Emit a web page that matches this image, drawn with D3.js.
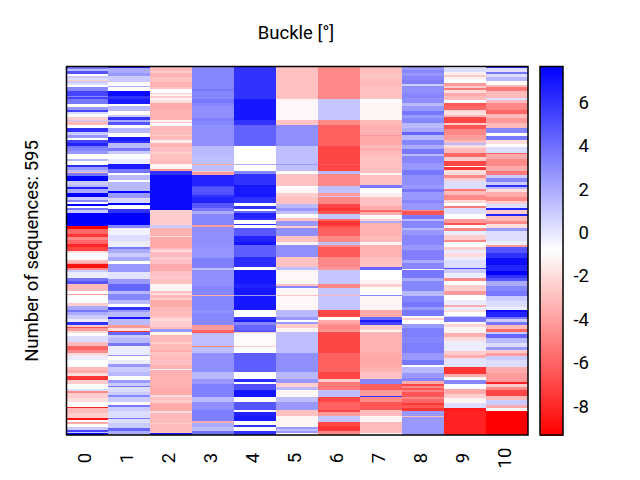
<!DOCTYPE html>
<html>
<head>
<meta charset="utf-8">
<title>Buckle</title>
<style>
    html, body { margin: 0; padding: 0; background: #fff; }
    text { font-family: Roboto, "Open Sans", sans-serif; fill: #000; }
    .frame { fill: none; stroke: #000; stroke-width: 1.5px; }
    .cell { shape-rendering: crispEdges; }
</style>
</head>
<body>
<svg width="640" height="480"></svg>
<script src="https://d3js.org/d3.v7.min.js"></script>
<script>
// each column: runs of [last sequence index of the run, buckle value]
const col0 = [[4,3.7],[8,1.5],[12,4.8],[15,-.83],[18,.9],[21,.3],[23,-2.5],[26,.9],[30,.3],[33,-.83],[40,3.2],[47,5.4],[50,3.2],[53,5.4],[60,3.7],[65,-.83],[70,2.6],[73,5.4],[76,.3],[81,-.83],[86,-2.5],[88,.9],[94,-3.1],[99,-.83],[106,6],[110,.9],[115,2.6],[118,-.83],[124,5.4],[128,6.5],[132,3.7],[137,3.2],[142,2.6],[149,-.83],[152,1.5],[159,-.83],[162,6.2],[167,2.6],[170,1.5],[172,-3.1],[176,3.7],[185,7.66],[191,.9],[194,1.5],[197,6.5],[204,2],[211,7.66],[215,.9],[219,3.2],[222,-.83],[226,7.66],[229,-.83],[231,3.7],[237,.9],[258,7.66],[263,-9.33],[271,-5.9],[275,-7.6],[280,-4.8],[287,-5.9],[291,-8.2],[298,-7],[301,-1.96],[312,-.83],[318,-3.1],[319,-4.2],[326,-8.7],[328,-4.8],[332,.9],[341,-.2],[346,3.7],[351,4.8],[362,-3.1],[367,-.83],[369,-4.2],[382,-.83],[386,-2.5],[393,2],[397,3.7],[401,2],[408,.9],[412,-.2],[417,6],[420,-2.5],[423,-6.5],[427,-4.2],[430,-1.96],[435,-.83],[445,.3],[451,-3.1],[458,-5.9],[463,-4.8],[468,-1.96],[474,-.2],[485,-.83],[490,-3.1],[495,-3.65],[499,-1.96],[506,-7.6],[512,-2.5],[520,-.83],[524,.3],[527,-4.8],[536,-2.5],[541,-1.96],[549,-.83],[551,-8.2],[560,-3.1],[568,-2.5],[571,-8.7],[574,-.83],[578,-3.65],[582,-.83],[587,.9],[590,5.4],[592,.9],[595,7.66]];
const col1 = [[3,6.5],[10,2],[16,2.6],[25,.9],[31,-.83],[33,2],[40,-.83],[48,7.3],[53,6],[60,6.8],[63,-.83],[72,1.5],[78,-.83],[81,.9],[86,6],[89,2],[95,4.8],[99,-.83],[108,1.5],[114,-.83],[120,6.8],[124,6],[132,1.5],[137,3.7],[142,.9],[150,-.83],[157,-.2],[166,6.8],[172,3.7],[175,-.83],[183,1.5],[187,-.83],[201,1.5],[204,7.66],[212,2.6],[220,.5],[224,7.66],[230,-.83],[237,6],[256,7.66],[260,3.2],[272,-.4],[282,.3],[291,-.2],[294,3.7],[301,2],[307,.9],[314,2],[319,-.83],[332,2.6],[343,.1],[351,2.6],[362,4.3],[368,1.5],[377,3.2],[384,1.5],[388,-.83],[393,6],[397,2.6],[405,1.5],[408,6.8],[417,1.5],[423,-4.2],[427,-1.96],[429,-7.6],[433,4.3],[439,.9],[446,1.5],[452,3.7],[466,-.2],[468,2.6],[474,-.83],[480,-.2],[485,2.6],[493,.9],[500,1.5],[507,-.83],[511,2.6],[516,.9],[518,3.7],[525,.3],[530,.9],[533,3.2],[541,.9],[547,-.83],[550,3.7],[557,.9],[567,.3],[569,3.7],[576,.3],[583,.9],[588,4.3],[595,2]];
const col2 = [[7,-3.1],[11,-2.5],[17,-3.4],[25,-2.9],[33,-3.4],[37,-2.9],[42,-.83],[45,-2.5],[48,-1.2],[51,-2.5],[54,-1.2],[59,-1.96],[70,-3.65],[86,-3.4],[89,-1.2],[92,-3.1],[96,-.83],[110,-3.1],[113,-2.5],[119,-3.1],[123,-1.5],[130,-3.4],[138,-2.9],[142,-2.5],[150,-2.9],[157,-3.1],[166,-1.2],[169,-4.2],[175,6],[231,7.3],[256,-2.5],[260,.9],[274,-3.4],[276,-1.96],[293,-3.65],[297,-2.9],[300,-1.96],[308,-3.1],[312,-2.5],[319,-2.9],[331,-3.65],[338,-2.9],[341,-2.5],[351,-2.9],[362,-1.2],[366,-2.9],[369,-1.96],[373,-3.1],[377,-2.5],[388,-3.65],[404,-3.1],[408,-2.5],[411,-1.96],[420,-2.5],[424,-3.1],[428,2.6],[433,-1.2],[445,-3.1],[448,-2.5],[458,-3.1],[461,-3.65],[468,-2.9],[474,-3.1],[482,-2.9],[488,-3.4],[490,-1.2],[517,-3.4],[530,-3.65],[533,-1.96],[538,-2.9],[544,-2.5],[557,-3.65],[559,-1.96],[575,-3.1],[578,-2.5],[590,-3.1],[592,-2.9],[595,6.8]];
const col3 = [[37,3.2],[40,3.7],[53,3.2],[59,3.7],[64,3.2],[83,2.9],[88,3.5],[95,3.2],[129,2.9],[145,1.5],[157,1.3],[159,-3.65],[168,1.3],[171,-2.5],[175,-4.2],[193,6.5],[195,5.4],[203,4.8],[208,5],[211,6],[220,6.5],[229,4.8],[234,3.7],[238,2],[256,3.2],[259,-4.2],[291,2.9],[310,2.7],[326,3.4],[328,1.3],[355,2.9],[369,3.2],[370,-3.65],[393,3.2],[398,2.9],[417,3.2],[425,-4.2],[429,-5.9],[430,-6.5],[451,1.3],[453,-4.8],[462,1.3],[493,2.9],[505,1.5],[513,2.6],[534,3.4],[542,1.5],[555,2.9],[573,3.5],[575,-3.65],[582,2],[589,1.3],[595,3.9]];
const col4 = [[53,6],[86,6.9],[95,6],[129,4.4],[157,-.83],[159,2],[168,-.83],[174,3.2],[191,6],[194,7],[204,6.8],[211,6.9],[221,6],[226,-.83],[230,6],[233,-.83],[237,4.3],[245,6.5],[248,6],[254,-.83],[256,6],[260,-.83],[274,4.7],[283,6.5],[288,7],[308,4.5],[324,6.2],[328,-.83],[351,6.9],[357,6.5],[369,6.9],[370,2.6],[393,6.9],[404,-.83],[409,6],[413,6.8],[417,3.2],[425,4.3],[429,4.8],[431,-2.5],[451,-1],[453,-2.5],[462,-.83],[493,4.5],[505,-.83],[509,6.2],[513,-.83],[522,5],[534,7],[542,-.83],[555,4.8],[558,-.83],[564,6.5],[573,6.8],[579,-.83],[582,6],[589,-.83],[595,6]];
const col5 = [[53,-2.9],[86,-1.1],[95,-2.9],[129,2.9],[157,1.3],[159,2.6],[168,1.3],[171,-1.2],[174,-.83],[193,-2.9],[196,-.83],[204,-1.1],[211,-2.5],[222,-2.9],[229,1.5],[234,2.6],[238,1.3],[245,-.83],[249,-2.9],[257,2.6],[260,-2.5],[274,2.9],[283,-2.9],[288,-1.2],[308,2.9],[324,-2.9],[328,1.3],[351,-1.1],[355,-2.9],[357,3.2],[369,-1.1],[370,-2.9],[393,-1.1],[404,1.5],[409,2.6],[413,-.83],[415,2.6],[423,-2.5],[428,-1.2],[462,1.3],[493,2.9],[505,1.5],[511,2.6],[517,-2.5],[522,1.5],[534,-1.1],[542,1.3],[555,2.6],[564,-2.9],[565,2.6],[582,-1.2],[585,2.6],[589,1.3],[592,2.6],[595,-1.2]];
const col6 = [[53,-4.8],[86,1.1],[95,-4.8],[129,-6.1],[157,-7],[159,-6.5],[168,-7],[174,1.5],[193,-4.8],[204,1.3],[209,-4.2],[211,1.1],[222,-4.8],[228,-7],[234,-7.6],[238,-6.5],[246,1.1],[250,-5.9],[257,-7.6],[260,-6.5],[274,-6.1],[283,-4.8],[288,1.3],[291,-4.8],[308,-6.3],[324,-4.8],[328,-4.2],[351,1.1],[357,-4.8],[369,1.1],[370,-3.1],[393,1.1],[404,-7],[409,-.83],[414,-3.65],[417,-4.2],[425,-4.8],[428,-4.2],[462,-7],[493,-6.1],[505,-7],[509,-2.5],[522,-5.3],[533,1.3],[542,-7],[555,-6.1],[558,-7],[565,-4.2],[574,1.1],[581,-7],[588,-7.6],[593,-4.8],[595,-3.1]];
const col7 = [[12,-3],[20,-2.8],[32,-3.1],[53,-2.9],[59,-.83],[86,-1.2],[95,-3.1],[110,-3.4],[112,-4.2],[126,-3.65],[132,-3.1],[136,-3.5],[145,-3.1],[172,-2.9],[175,-1.2],[191,-2.9],[196,3.7],[204,-.83],[211,-1.4],[226,-2.9],[231,-3.65],[235,-5.9],[239,-3.65],[246,-.83],[250,-2.5],[252,2],[274,-3.4],[283,-3.1],[288,-1.2],[308,-3.4],[324,-2.9],[328,4.3],[344,-.83],[351,-1.2],[356,-2.5],[369,-.83],[370,3.2],[393,-1.2],[405,-3.65],[409,4.3],[413,6.8],[417,5.4],[425,-2.5],[429,-1.2],[462,-3.4],[485,-3.65],[493,-3.4],[505,-2.9],[513,3.2],[522,-6.2],[532,-4.2],[534,6],[542,-4.8],[555,-6.5],[564,-3.1],[574,-1.2],[592,-3.1],[595,-1.2]];
const col8 = [[5,2.6],[10,3.2],[16,2.6],[22,3.2],[29,3.4],[31,.9],[42,2.9],[51,3.2],[59,2.9],[64,1.5],[72,2.6],[78,3.7],[83,2.6],[91,3.2],[99,1.5],[106,2],[110,4.3],[118,1.5],[126,3.2],[133,2],[141,3.7],[145,1.5],[156,3.2],[167,2.6],[175,3.7],[191,2.9],[197,2.6],[202,3.7],[215,2.6],[220,3.2],[231,2.6],[234,-4.8],[239,-6.5],[246,3.7],[249,1.5],[261,3.2],[264,1.5],[272,2.6],[288,3.2],[296,2.6],[312,3.4],[318,2],[327,3.2],[329,-.83],[342,3.7],[347,2],[363,3.2],[370,1.5],[380,3.2],[388,3.7],[393,2.6],[403,3.7],[406,-.83],[409,-2.5],[416,-.83],[423,2.6],[436,3.4],[447,3.2],[463,3.4],[474,2.6],[482,3.7],[486,-.83],[495,1.5],[503,2.6],[508,3.2],[513,-3.65],[516,-7],[519,-4.8],[522,-6.5],[526,-5],[533,-6.5],[537,-4.8],[543,-5.9],[547,-7.6],[551,-6.5],[557,-7.6],[564,2.6],[566,-3.1],[595,2.6]];
const col9 = [[3,-.83],[9,.3],[13,-1.4],[17,-2.5],[21,-1.2],[26,-.83],[31,-4.2],[34,-2.5],[38,-5.3],[43,-1.96],[48,-3.65],[54,-3.1],[59,-.83],[64,-6.5],[70,-5.9],[72,-2.5],[78,-1.96],[81,-3.1],[91,-7],[95,-2.5],[101,-6.5],[110,-4.8],[118,-4.2],[123,-3.1],[127,1.5],[132,-1.96],[140,-3.1],[146,-5.9],[152,-2.5],[160,-7],[162,-.83],[167,-7.6],[175,-1.96],[180,-4.8],[185,-2.5],[197,.3],[201,-5.3],[207,-3.1],[215,-4.8],[220,-2.2],[226,-.83],[229,-5.3],[238,.3],[246,-.83],[253,-4.2],[256,-6.5],[261,-.83],[265,-4.8],[272,-.2],[280,-2.5],[284,-4.8],[292,-.83],[296,-2.5],[301,-.2],[307,-1.96],[312,-.2],[325,.3],[327,5.4],[334,.9],[341,-.2],[346,-4.8],[353,-.83],[362,-2.5],[369,-4.2],[377,-.83],[385,-.2],[388,-3.65],[393,-.2],[396,-1.96],[403,-.83],[405,.9],[412,3.7],[416,-.83],[421,-2.2],[431,-1.2],[436,-3.5],[444,-1.96],[460,-.2],[466,-2.5],[471,-3.65],[485,.1],[496,-7.6],[501,-3.65],[506,-.83],[512,3.2],[520,-.83],[528,-3.65],[536,-2.5],[544,-1.2],[551,.3],[557,-8.5],[595,-8.2]];
const col10 = [[3,6],[9,.3],[12,3.7],[17,.3],[24,1.5],[30,-.83],[33,-3.1],[40,-5.3],[51,-3.1],[54,.3],[59,-3.1],[70,-4.8],[76,-5.9],[83,-3.1],[91,-4.2],[99,-3.1],[108,3.2],[112,-.83],[118,3.7],[125,-1.96],[130,-.83],[139,.3],[142,-5.9],[150,-3.65],[160,-4.8],[169,-3.65],[175,-5.3],[180,.9],[187,3.2],[191,.9],[195,6],[197,1.5],[203,-1.96],[210,-3.65],[217,-4.8],[222,-2.5],[229,.3],[231,6.5],[238,-2.5],[242,6.5],[249,-3.1],[254,-4.8],[261,-1.96],[266,2.6],[282,.3],[288,-.2],[292,-4.2],[301,4.8],[310,6],[320,7.2],[330,6.5],[337,7.66],[342,6],[347,4.8],[355,2],[363,3.2],[371,3.7],[379,.9],[388,.3],[393,-.2],[397,7.3],[404,6.5],[408,3.7],[412,.9],[417,3.7],[424,-3.1],[429,-5.9],[432,.9],[439,4.3],[447,1.5],[453,.3],[458,2.6],[463,-2.5],[468,-4.2],[474,.9],[485,.3],[495,-3.65],[509,-4.2],[513,-8.2],[518,-2.5],[523,-4.8],[532,-7],[538,-3.1],[547,.9],[551,-3.65],[556,-.83],[595,-9.33]];

const columns = [col0, col1, col2, col3, col4, col5, col6, col7, col8, col9, col10];
const positions = ["0", "1", "2", "3", "4", "5", "6", "7", "8", "9", "10"];
const barTicks = [6, 4, 2, 0, -2, -4, -6, -8];
const nSeq = 595;
const vMin = -9.33, vMax = 7.66;

const svg = d3.select("svg");
const plotLeft = 66.5, plotRight = 528, plotTop = 66.5, plotBottom = 435;
const barLeft = 540, barRight = 563;
const fontSize = "18.5px";

const x = d3.scaleBand().domain(positions).range([plotLeft, plotRight]);
const y = d3.scaleLinear().domain([0, nSeq]).range([plotTop, plotBottom]);
const color = d3.scaleLinear()
    .domain([vMin, (vMin + vMax) / 2, vMax])
    .range(["#ff0000", "#ffffff", "#0000ff"]);
const barY = d3.scaleLinear().domain([vMin, vMax]).range([plotBottom, plotTop]);

// heatmap, one rect per run
columns.forEach((runs, i) => {
    svg.append("g").selectAll("rect")
        .data(runs)
        .join("rect")
        .attr("class", "cell")
        .attr("x", x(positions[i]))
        .attr("width", x.bandwidth())
        .attr("y", (d, j) => y(j ? runs[j - 1][0] : 0))
        .attr("height", (d, j) => y(d[0]) - y(j ? runs[j - 1][0] : 0))
        .attr("fill", d => color(d[1]));
});
svg.append("rect").attr("class", "frame")
    .attr("x", plotLeft).attr("y", plotTop)
    .attr("width", plotRight - plotLeft).attr("height", plotBottom - plotTop);

// x axis with rotated labels, no tick marks
const xAxis = svg.append("g")
    .attr("transform", `translate(0,${plotBottom})`)
    .call(d3.axisBottom(x).tickSize(0));
xAxis.select(".domain").remove();
xAxis.selectAll("text")
    .attr("transform", "translate(-3,23) rotate(-90)")
    .attr("x", 0).attr("y", 0).attr("dy", "0.36em")
    .style("text-anchor", "middle")
    .style("font-size", fontSize);

// colour bar
const barSteps = d3.range(256).map(i => vMin + (vMax - vMin) * i / 255);
const barStep = (vMax - vMin) / 255;
svg.append("g").selectAll("rect")
    .data(barSteps)
    .join("rect")
    .attr("class", "cell")
    .attr("x", barLeft)
    .attr("width", barRight - barLeft)
    .attr("y", d => barY(Math.min(d + barStep, vMax)))
    .attr("height", d => barY(d) - barY(Math.min(d + barStep, vMax)) + 0.5)
    .attr("fill", d => color(d));
svg.append("rect").attr("class", "frame")
    .attr("x", barLeft).attr("y", plotTop)
    .attr("width", barRight - barLeft).attr("height", plotBottom - plotTop);

const barAxis = svg.append("g")
    .attr("transform", `translate(${barRight},0)`)
    .call(d3.axisRight(barY).tickValues(barTicks).tickFormat(d => String(d)).tickSize(0));
barAxis.select(".domain").remove();
barAxis.selectAll("text")
    .attr("x", 26)
    .style("text-anchor", "end")
    .style("font-size", fontSize);

// labels
svg.append("text")
    .attr("x", 296).attr("y", 39)
    .attr("text-anchor", "middle")
    .style("font-size", fontSize)
    .text("Buckle [°]");
svg.append("text")
    .attr("transform", "translate(38,251) rotate(-90)")
    .attr("text-anchor", "middle")
    .style("font-size", fontSize)
    .text("Number of sequences: " + nSeq);
</script>
</body>
</html>
